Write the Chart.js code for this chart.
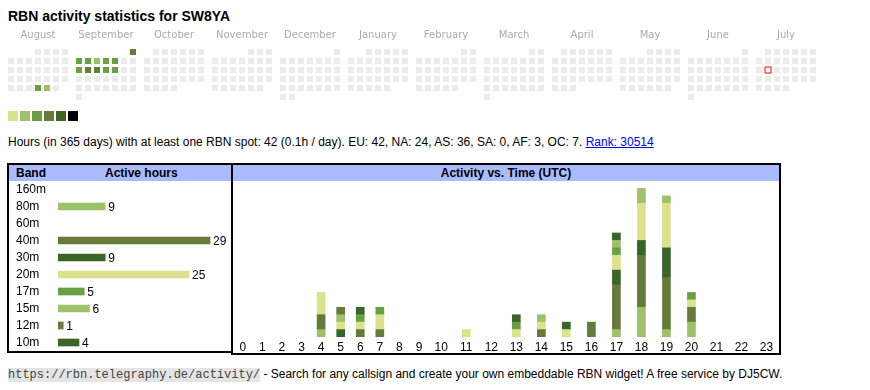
<!DOCTYPE html>
<html>
<head>
<meta charset="utf-8">
<title>RBN activity statistics for SW8YA</title>
<script src="https://cdn.jsdelivr.net/npm/chart.js@4.4.1/dist/chart.umd.min.js"></script>
<style>
  body { margin: 0; width: 870px; height: 390px; background: #fff; position: relative;
         font-family: 'Liberation Sans', Arial, sans-serif; font-size: 12px; color: #000; overflow: hidden; }
  .abs { position: absolute; }
  .box { position: absolute; border: 2px solid #000; }
  .hdr { position: relative; height: 16px; background: #aabbff; font-weight: bold; font-size: 12px; line-height: 16px; }
  #legend span { display: inline-block; width: 10px; height: 10px; margin-right: 2px; vertical-align: top; }
  canvas { display: block; }
</style>
</head>
<body>

<div class="abs" style="left:8px; top:7px; font-weight:bold; font-size:14px; line-height:18px;">RBN activity statistics for SW8YA</div>

<div class="abs" style="left:8px; top:24px;"><canvas id="calChart" width="811" height="80"></canvas></div>
<div class="abs" id="legend" style="left:8px; top:111px; height:10px; line-height:0;"></div>

<div class="abs" style="left:8px; top:135px; line-height:14px; white-space:nowrap;">Hours (in 365 days) with at least one RBN spot: 42 (0.1h / day). EU: 42, NA: 24, AS: 36, SA: 0, AF: 3, OC: 7. <a href="#" style="color:#0000ee;">Rank: 30514</a></div>

<div class="box" style="left:7px; top:163px; width:222px; height:186px;">
  <div class="hdr"><span class="abs" style="left:7px;">Band</span><span class="abs" style="left:96px;">Active hours</span></div>
  <canvas id="bandChart" width="222" height="170"></canvas>
</div>

<div class="box" style="left:231px; top:163px; width:546px; height:188px;">
  <div class="hdr" style="text-align:center;">Activity vs. Time (UTC)</div>
  <canvas id="timeChart" width="546" height="172"></canvas>
</div>

<div class="abs" style="left:8px; top:367px; line-height:14px; white-space:nowrap;"><span style="font-family:'Liberation Mono', monospace; font-size:12px; background:#e4e4e4; color:#444;">https://rbn.telegraphy.de/activity/</span> - Search for any callsign and create your own embeddable RBN widget! A free service by DJ5CW.</div>

<script>
// Calendar (Aug 2024 - Jul 2025)
const months = ['August', 'September', 'October', 'November', 'December', 'January',
                'February', 'March', 'April', 'May', 'June', 'July'];
const activeDates = ['2024-08-29', '2024-08-30', '2024-09-01', '2024-09-02', '2024-09-03',
                     '2024-09-04', '2024-09-05', '2024-09-06', '2024-09-09', '2024-09-10',
                     '2024-09-11', '2024-09-12', '2024-09-13'];
const activeLevels = [2, 1, 3, 2, 2, 1, 2, 2, 2, 3, 3, 2, 2];
const levelColors = ['#dce28c', '#9dc068', '#68a044', '#667a3a', '#3a6428', '#000000'];
const todayDate = '2025-07-15';

// Band table
const bands = ['160m', '80m', '60m', '40m', '30m', '20m', '17m', '15m', '12m', '10m'];
const bandHours = [0, 9, 0, 29, 9, 25, 5, 6, 1, 4];
const bandColors = ['#68a044', '#9dc068', '#dce28c', '#667a3a', '#3a6428',
                    '#dce28c', '#68a044', '#9dc068', '#667a3a', '#3a6428'];

// Activity vs. time (UTC hours)
const hours = ['0', '1', '2', '3', '4', '5', '6', '7', '8', '9', '10', '11',
               '12', '13', '14', '15', '16', '17', '18', '19', '20', '21', '22', '23'];
const hourly160m = [0,0,0,0,0,0,0,0,0,0,0,0,0,0,0,0,0,0,0,0,0,0,0,0];
const hourly80m  = [0,0,0,0,1,0,0,0,0,0,0,0,0,0,0,0,0,1,4,1,2,0,0,0];
const hourly60m  = [0,0,0,0,0,0,0,0,0,0,0,0,0,0,0,0,0,0,0,0,0,0,0,0];
const hourly40m  = [0,0,0,0,2,0,1,1,0,0,0,0,0,0,1,0,2,6,7,7,2,0,0,0];
const hourly30m  = [0,0,0,0,0,1,0,0,0,0,0,0,0,0,0,0,0,2,2,4,0,0,0,0];
const hourly20m  = [0,0,0,0,3,1,1,2,0,0,0,1,0,1,1,1,0,2,5,6,1,0,0,0];
const hourly17m  = [0,0,0,0,0,0,1,1,0,0,0,0,0,1,0,0,0,1,0,0,1,0,0,0];
const hourly15m  = [0,0,0,0,0,1,0,0,0,0,0,0,0,0,1,0,0,1,2,1,0,0,0,0];
const hourly12m  = [0,0,0,0,0,1,0,0,0,0,0,0,0,0,0,0,0,0,0,0,0,0,0,0];
const hourly10m  = [0,0,0,0,0,0,1,0,0,0,0,0,0,1,0,1,0,1,0,0,0,0,0,0];
const bandHourly = [hourly160m, hourly80m, hourly60m, hourly40m, hourly30m,
                    hourly20m, hourly17m, hourly15m, hourly12m, hourly10m];

const EMPTY_CELL = '#ebebeb';
const MONTH_STRIDE = 68 / 9;   // one month block = 7 day columns + gap
const COL_PAD = 2.6;           // table cell padding, in digit widths

Chart.defaults.font.family = "'Liberation Sans', Arial, sans-serif";
Chart.defaults.font.size = 12;
Chart.defaults.color = '#000';
Chart.defaults.animation = false;
Chart.defaults.events = [];
Chart.defaults.layout.autoPadding = false;
Chart.defaults.plugins.legend.display = false;
Chart.defaults.plugins.tooltip.enabled = false;

const noZero = arr => arr.map(v => (v > 0 ? v : null));

// legend squares
const legendEl = document.getElementById('legend');
levelColors.forEach(c => {
    const s = document.createElement('span');
    s.style.background = c;
    legendEl.appendChild(s);
});

// build calendar cells
const pad = n => String(n).padStart(2, '0');
const cellPoints = [];
const cellColors = [];
const todayPoint = [];
months.forEach((name, m) => {
    const first = new Date(2024, 7 + m, 1);
    const y = first.getFullYear();
    const mo = first.getMonth();
    const nDays = new Date(y, mo + 1, 0).getDate();
    const offset = (first.getDay() + 6) % 7;
    for (let d = 1; d <= nDays; d++) {
        const idx = offset + d - 1;
        const key = y + '-' + pad(mo + 1) + '-' + pad(d);
        const pt = { x: m * MONTH_STRIDE + (idx % 7), y: Math.floor(idx / 7) };
        const a = activeDates.indexOf(key);
        cellPoints.push(pt);
        cellColors.push(a >= 0 ? levelColors[activeLevels[a]] : EMPTY_CELL);
        if (key === todayDate) todayPoint.push(pt);
    }
});

const cellRadius = 6 / (2 * Math.SQRT1_2);
new Chart(document.getElementById('calChart'), {
    type: 'scatter',
    data: {
        datasets: [{
            data: todayPoint,
            pointStyle: 'rect',
            pointRadius: cellRadius,
            backgroundColor: '#ffffff',
            borderColor: '#ff0000',
            pointBorderWidth: 1,
            clip: false,
            order: 0
        }, {
            data: cellPoints,
            pointStyle: 'rect',
            pointRadius: cellRadius,
            backgroundColor: cellColors,
            pointBorderWidth: 0,
            borderWidth: 0,
            clip: false,
            order: 1
        }]
    },
    options: {
        responsive: false,
        devicePixelRatio: 1,
        layout: { padding: 0, autoPadding: false },
        scales: {
            x: {
                type: 'linear',
                position: 'top',
                min: -1 / 3,
                max: -1 / 3 + 811 / 9,
                grid: { display: false, drawTicks: false },
                border: { display: false },
                afterBuildTicks: s => { s.ticks = months.map((n, m) => ({ value: m * MONTH_STRIDE + 3 })); },
                afterFit: s => { s.height = 22; },
                ticks: {
                    autoSkip: false,
                    maxRotation: 0,
                    padding: 5,
                    color: '#aaaaaa',
                    font: { family: "'DejaVu Sans', sans-serif", size: 10 },
                    callback: (v, i) => months[i]
                }
            },
            y: {
                type: 'linear',
                display: false,
                reverse: true,
                min: -2 / 3,
                max: -2 / 3 + 58 / 9
            }
        }
    }
});

// band table bars
const valueLabels = {
    id: 'valueLabels',
    afterDatasetsDraw(chart) {
        const ctx = chart.ctx;
        ctx.save();
        ctx.font = "12px 'Liberation Sans', Arial, sans-serif";
        ctx.fillStyle = '#000';
        ctx.textBaseline = 'middle';
        chart.getDatasetMeta(0).data.forEach((bar, i) => {
            const v = chart.data.datasets[0].data[i];
            if (v > 0) ctx.fillText(String(v), bar.x + 3, bar.y + 1);
        });
        ctx.restore();
    }
};

new Chart(document.getElementById('bandChart'), {
    type: 'bar',
    data: {
        labels: bands,
        datasets: [{
            data: noZero(bandHours),
            backgroundColor: bandColors,
            barThickness: 7,
            borderWidth: 0
        }]
    },
    options: {
        indexAxis: 'y',
        responsive: false,
        devicePixelRatio: 1,
        layout: { padding: { left: 7, right: 0, top: 0, bottom: 0 }, autoPadding: false },
        scales: {
            x: { display: false, min: 0, max: 33 },
            y: {
                grid: { display: false, drawTicks: false },
                border: { display: false },
                afterFit: s => { s.width = 42; s.paddingTop = 0; s.paddingBottom = 0; },
                ticks: { autoSkip: false, crossAlign: 'far', padding: 0, color: '#000', font: { size: 12 } }
            }
        }
    },
    plugins: [valueLabels]
});

// category scale whose columns are as wide as an html table's cells
class TableColumnScale extends Chart.CategoryScale {
    getPixelForValue(value) {
        if (typeof value !== 'number') value = this.parse(value);
        if (value === null || value === undefined) return NaN;
        const weights = this.getLabels().map(l => String(l).length + COL_PAD);
        const total = weights.reduce((a, b) => a + b, 0);
        let before = 0;
        for (let i = 0; i < value; i++) before += weights[i];
        return this.left + (before + weights[value] / 2) / total * this.width;
    }
}
TableColumnScale.id = 'tablecols';
TableColumnScale.defaults = Chart.CategoryScale.defaults;
Chart.register(TableColumnScale);

new Chart(document.getElementById('timeChart'), {
    type: 'bar',
    data: {
        labels: hours,
        datasets: bands.map((b, i) => ({
            label: b,
            data: noZero(bandHourly[i]),
            backgroundColor: bandColors[i],
            barThickness: 8,
            borderWidth: 0
        }))
    },
    options: {
        responsive: false,
        devicePixelRatio: 1,
        layout: { padding: 0, autoPadding: false },
        scales: {
            x: {
                type: 'tablecols',
                stacked: true,
                grid: { display: false, drawTicks: false },
                border: { display: false },
                afterFit: s => { s.height = 16; },
                ticks: { autoSkip: false, maxRotation: 0, padding: 3, color: '#000', font: { size: 12 } }
            },
            y: { stacked: true, display: false, min: 0, max: 21 }
        }
    }
});
</script>
</body>
</html>
